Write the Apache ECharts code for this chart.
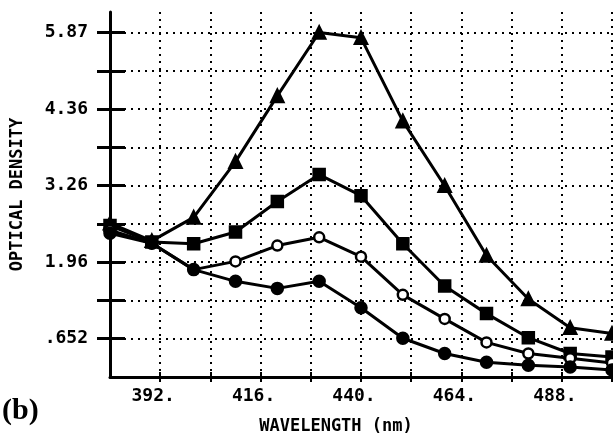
<!DOCTYPE html>
<html>
<head>
<meta charset="utf-8">
<script src="https://cdn.jsdelivr.net/npm/echarts@6/dist/echarts.min.js"></script>
<style>
html,body{margin:0;padding:0;background:#fff;}
#c{width:613px;height:440px;}
</style>
</head>
<body>
<div id="c"></div>
<script>
const wavelengths = [380, 390, 400, 410, 420, 430, 440, 450, 460, 470, 480, 490, 500];
const curveA = [2.62, 2.32, 2.72, 3.67, 4.79, 5.87, 5.78, 4.36, 3.26, 2.07, 1.33, 0.84, 0.74];
const curveB = [2.58, 2.30, 2.27, 2.47, 2.99, 3.45, 3.09, 2.27, 1.55, 1.08, 0.67, 0.40, 0.34];
const curveC = [2.50, 2.28, 1.83, 1.97, 2.24, 2.38, 2.05, 1.40, 0.99, 0.59, 0.40, 0.32, 0.24];
const curveD = [2.45, 2.28, 1.83, 1.63, 1.51, 1.63, 1.18, 0.66, 0.40, 0.25, 0.20, 0.17, 0.12];

const yGridValues = [0.652, 1.304, 1.956, 2.608, 3.26, 3.912, 4.564, 5.216, 5.868];
const yLabelValues = [0.652, 1.956, 3.26, 4.564, 5.868];
const yLabelTexts = ['.652', '1.96', '3.26', '4.36', '5.87'];
const xGridValues = [392, 404, 416, 428, 440, 452, 464, 476, 488, 500];
const xLabelValues = [392, 416, 440, 464, 488];

const monoFont = '"DejaVu Sans Mono", "Liberation Mono", monospace';

function makeSeries(name, data, symbol, size, fill) {
  return {
    name: name,
    type: 'line',
    xAxisIndex: 0,
    yAxisIndex: 0,
    data: wavelengths.map((w, i) => [w, data[i]]),
    symbol: symbol,
    symbolSize: size,
    showSymbol: true,
    showAllSymbol: true,
    lineStyle: { color: '#000', width: 3, type: 'solid' },
    itemStyle: { color: fill, borderColor: '#000', borderWidth: 2.5, decal: null },
    emphasis: { disabled: true },
    z: 5
  };
}

const chart = echarts.init(document.getElementById('c'), null, { renderer: 'canvas' });
chart.setOption({
  animation: false,
  backgroundColor: '#fff',
  aria: { enabled: false, decal: { show: false } },
  grid: { left: 110, right: 1, top: 12, bottom: 58, containLabel: false },
  xAxis: [{
    type: 'value', min: 380, max: 500, interval: 12,
    axisLine: { show: true, lineStyle: { color: '#000', width: 3 } },
    axisTick: { show: true, length: 5, customValues: xGridValues, lineStyle: { color: '#000', width: 2 } },
    axisLabel: {
      show: true, customValues: xLabelValues, margin: 10,
      formatter: v => v + '.',
      color: '#000', fontFamily: monoFont, fontWeight: 'bold', fontSize: 18,
      padding: [0, 14, 0, 0]
    },
    splitLine: { show: true, showMinLine: true, showMaxLine: true, lineStyle: { color: '#000', width: 2, type: [2, 5] } },
    name: 'WAVELENGTH (nm)', nameLocation: 'middle', nameGap: 41,
    nameTextStyle: { color: '#000', fontFamily: monoFont, fontWeight: 'bold', fontSize: 17, padding: [0, 50, 0, 0] }
  }, {
    type: 'value', min: 380, max: 500, interval: 12, position: 'bottom',
    axisLine: { show: false },
    axisTick: { show: true, inside: true, length: 5, customValues: xGridValues, lineStyle: { color: '#000', width: 2 } },
    axisLabel: { show: false },
    splitLine: { show: false }
  }],
  yAxis: [{
    type: 'value', min: 0, max: 6.22, interval: 0.652,
    axisLine: { show: true, lineStyle: { color: '#000', width: 3 } },
    axisTick: { show: true, length: 13, customValues: yGridValues, lineStyle: { color: '#000', width: 3 } },
    axisLabel: {
      show: true, customValues: yLabelValues, margin: 22,
      formatter: v => {
        let best = -1, bd = 1e9;
        yLabelValues.forEach((lv, i) => { const d = Math.abs(lv - v); if (d < bd) { bd = d; best = i; } });
        return bd < 0.01 ? yLabelTexts[best] : '';
      },
      color: '#000', fontFamily: monoFont, fontWeight: 'bold', fontSize: 18
    },
    splitLine: { show: true, showMinLine: true, showMaxLine: true, lineStyle: { color: '#000', width: 2, type: [2, 5] } },
    name: 'OPTICAL DENSITY', nameLocation: 'middle', nameGap: 84, nameRotate: 90,
    nameTextStyle: { color: '#000', fontFamily: monoFont, fontWeight: 'bold', fontSize: 17 }
  }, {
    type: 'value', min: 0, max: 6.22, interval: 0.652, position: 'left',
    axisLine: { show: false },
    axisTick: { show: true, inside: true, length: 15, customValues: yGridValues, lineStyle: { color: '#000', width: 3 } },
    axisLabel: { show: false },
    splitLine: { show: false }
  }],
  graphic: [{
    type: 'text', left: 2, top: 396,
    style: { text: '(b)', fill: '#000', font: 'bold 30px "Liberation Serif", "DejaVu Serif", serif' }
  }],
  series: [
    makeSeries('A', curveA, 'triangle', 12, '#000'),
    makeSeries('B', curveB, 'rect', 11, '#000'),
    makeSeries('C', curveC, 'circle', 10, '#fff'),
    makeSeries('D', curveD, 'circle', 11, '#000')
  ]
});
</script>
</body>
</html>
